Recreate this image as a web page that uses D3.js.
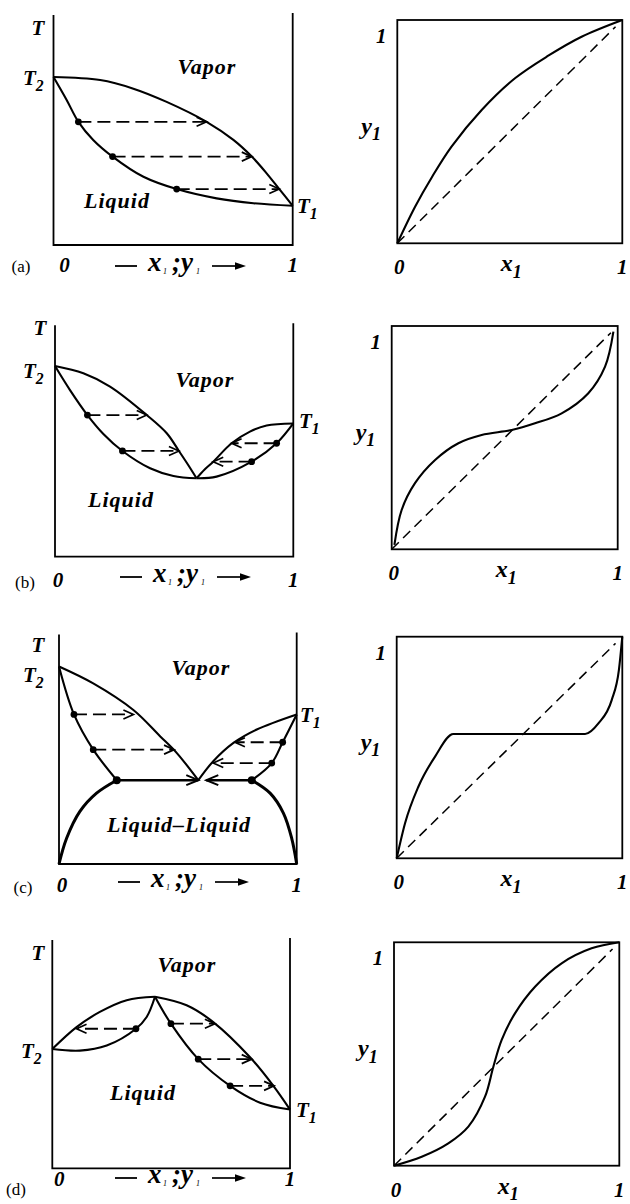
<!DOCTYPE html>
<html>
<head>
<meta charset="utf-8">
<script src="https://cdn.jsdelivr.net/npm/d3@7/dist/d3.min.js"></script>
<style>
  body { margin: 0; background: #fff; }
  svg { display: block; }
</style>
</head>
<body>
<svg id="chart" width="630" height="1204"></svg>
<script>
// ---------------------------------------------------------------------------
// Data: binary vapour–liquid equilibrium, normalised composition x1 / y1 (0..1)
// and normalised temperature T (0 = bottom of frame, 1 = top of frame).
// Curves are [x, T] pairs; tie lines are [liquid x, vapour y, T].
// ---------------------------------------------------------------------------

// (a) zeotropic system
const aDew    = [[0,0.724],[0.195,0.711],[0.334,0.674],[0.473,0.617],[0.640,0.531],[0.752,0.453],[0.829,0.381],[0.891,0.309],[0.944,0.241],[1,0.169]];
const aBubble = [[0,0.724],[0.055,0.625],[0.104,0.531],[0.166,0.453],[0.247,0.381],[0.376,0.294],[0.515,0.241],[0.682,0.201],[0.836,0.180],[1,0.169]];
const aTies   = [[0.104,0.640,0.531],[0.247,0.829,0.381],[0.515,0.944,0.241]];
const aXY     = [[0,0],[0.079,0.164],[0.153,0.295],[0.241,0.433],[0.375,0.597],[0.523,0.739],[0.671,0.840],[0.819,0.925],[1,1]];

// (b) minimum-boiling azeotrope
const bDewL    = [[0,0.817],[0.119,0.786],[0.231,0.729],[0.385,0.607],[0.469,0.529],[0.520,0.453],[0.559,0.393],[0.594,0.336]];
const bBubbleL = [[0,0.817],[0.063,0.714],[0.136,0.607],[0.203,0.526],[0.283,0.453],[0.399,0.379],[0.497,0.346],[0.594,0.336]];
const bDewR    = [[0.594,0.336],[0.629,0.375],[0.664,0.407],[0.741,0.486],[0.818,0.536],[0.888,0.562],[1,0.571]];
const bBubbleR = [[0.594,0.336],[0.678,0.343],[0.825,0.407],[0.930,0.486],[1,0.571]];
const bTies    = [[0.136,0.385,0.607],[0.283,0.520,0.453],[0.930,0.741,0.486],[0.825,0.664,0.407]];
const bXY      = [[0.012,0.02],[0.044,0.176],[0.103,0.296],[0.192,0.400],[0.295,0.475],[0.398,0.512],[0.531,0.534],[0.634,0.564],[0.752,0.609],[0.870,0.699],[0.944,0.818],[0.981,0.975]];

// (c) heterogeneous azeotrope with liquid–liquid split
const cDewL    = [[0,0.853],[0.144,0.780],[0.313,0.665],[0.425,0.552],[0.495,0.480],[0.586,0.362]];
const cBubbleL = [[0,0.853],[0.063,0.646],[0.144,0.494],[0.243,0.362]];
const cDewR    = [[0.586,0.362],[0.649,0.444],[0.734,0.523],[0.832,0.581],[1,0.646]];
const cBubbleR = [[0.811,0.362],[0.895,0.436],[0.941,0.526],[1,0.646]];
const cLLEL    = [[0,0],[0.032,0.111],[0.088,0.227],[0.158,0.306],[0.243,0.362]];
const cLLER    = [[0.811,0.362],[0.888,0.306],[0.944,0.220],[0.979,0.111],[1,0]];
const cTies    = [[0.063,0.313,0.646],[0.144,0.484,0.494],[0.941,0.740,0.526],[0.895,0.649,0.436]];
const cThree   = [0.243,0.586,0.811,0.362]; // left liquid, azeotrope vapour, right liquid, T
const cXY      = [[0,0],[0.037,0.158],[0.096,0.323],[0.170,0.459],[0.251,0.561],[0.835,0.561],[0.894,0.609],[0.953,0.714],[0.985,0.850],[1,1]];

// (d) maximum-boiling azeotrope
const dDewL    = [[0,0.518],[0.102,0.613],[0.200,0.679],[0.313,0.730],[0.432,0.745]];
const dBubbleL = [[0,0.518],[0.116,0.511],[0.229,0.533],[0.352,0.606],[0.397,0.657],[0.432,0.745]];
const dDewR    = [[0.432,0.745],[0.565,0.708],[0.677,0.635],[0.832,0.482],[0.930,0.358],[1,0.255]];
const dBubbleR = [[0.432,0.745],[0.499,0.628],[0.614,0.474],[0.748,0.358],[0.874,0.285],[1,0.255]];
const dTies    = [[0.352,0.102,0.606],[0.499,0.684,0.628],[0.614,0.839,0.474],[0.748,0.933,0.358]];
const dXY      = [[0,0],[0.123,0.040],[0.241,0.100],[0.330,0.175],[0.404,0.309],[0.441,0.443],[0.478,0.563],[0.537,0.682],[0.626,0.801],[0.744,0.906],[0.877,0.973],[1,1]];

// y = x reference line
const diagonal = [[0,0],[0.97,0.97]];

// text
const tickLabels  = ["0", "1"];
const panelTags   = ["(a)", "(b)", "(c)", "(d)"];
const phaseNames  = [["Vapor","Liquid"],["Vapor","Liquid"],["Vapor","Liquid\u2013Liquid"],["Vapor","Liquid"]];

// ---------------------------------------------------------------------------
// Layout
// ---------------------------------------------------------------------------
const INK = "#000";
const SERIF = "'Liberation Serif', 'Times New Roman', serif";

const txyLayout = [
  { box:{x0:53.5, x1:292.7, yb:245,   yt:13},   T:[38,35],  T2:[23,85],   T1:[297,213],  vapor:[207,74],  liquid:[117,208],  tag:[21,272],  tickY:272,  zeroDx:11, xl:[115,266] },
  { box:{x0:55,   x1:293.3, yb:556.7, yt:323.3},T:[40,335], T2:[23,378],  T1:[299,428],  vapor:[205,387], liquid:[121,507],  tag:[25,588],  tickY:587,  zeroDx:3,  xl:[120,577] },
  { box:{x0:59,   x1:296.7, yb:864,   yt:632.5},T:[38,652], T2:[23,682],  T1:[300,722],  vapor:[201,675], liquid:[179,832],  tag:[23,893],  tickY:892,  zeroDx:3,  xl:[118,882] },
  { box:{x0:52.3, x1:290,   yb:1168.3,yt:938},  T:[38,960], T2:[21,1058], T1:[296,1117], vapor:[187,972], liquid:[143,1100], tag:[16,1195], tickY:1186, zeroDx:7,  xl:[115,1178] }
];

const xyLayout = [
  { x0:397.3, x1:622.3, yt:20,    yb:243.3 },
  { x0:391.7, x1:617.7, yt:326,   yb:549.3 },
  { x0:396.7, x1:622.3, yt:636.7, yb:858.3 },
  { x0:394,   x1:619.3, yt:942.3, yb:1165.7 }
];

const txySeries = [
  { curves:[aDew, aBubble],                    ties:aTies, lle:[],           three:null },
  { curves:[bDewL, bBubbleL, bDewR, bBubbleR], ties:bTies, lle:[],           three:null },
  { curves:[cDewL, cBubbleL, cDewR, cBubbleR], ties:cTies, lle:[cLLEL,cLLER], three:cThree },
  { curves:[dDewL, dBubbleL, dDewR, dBubbleR], ties:dTies, lle:[],           three:null }
];
const xySeries = [aXY, bXY, cXY, dXY];

const svg = d3.select("#chart");

function bi(sel, size) {
  return sel.attr("font-family", SERIF).attr("font-weight", "bold")
            .attr("font-style", "italic").attr("font-size", size).attr("fill", INK);
}

// bold-italic symbol with a small subscript, e.g. T2, y1
function subLabel(g, x, y, main, sub, size, anchor) {
  const t = bi(g.append("text"), size).attr("x", x).attr("y", y)
              .attr("text-anchor", anchor || "start");
  t.append("tspan").text(main);
  t.append("tspan").attr("font-size", size * 0.75).attr("dy", size * 0.28).text(sub);
  return t;
}

function hLine(g, xa, xb, y, w, dash) {
  return g.append("line").attr("x1", xa).attr("x2", xb).attr("y1", y).attr("y2", y)
    .attr("stroke", INK).attr("stroke-width", w).attr("stroke-dasharray", dash || null);
}

function chevron(g, xt, y, dir, w, len, half) {
  g.append("path")
    .attr("d", `M${xt - dir * len},${y - half}L${xt},${y}L${xt - dir * len},${y + half}`)
    .attr("fill", "none").attr("stroke", INK).attr("stroke-width", w)
    .attr("stroke-linejoin", "miter");
}

// composition axis caption:  — x1 ;y1 ⟶
function compositionCaption(g, xs, yc) {
  hLine(g, xs, xs + 22, yc, 1.8);
  const t = g.append("text").attr("font-family", SERIF).attr("font-style", "italic")
             .attr("font-weight", "bold").attr("font-size", 27).attr("fill", INK).attr("y", yc + 5);
  t.append("tspan").attr("x", xs + 33).text("x");
  t.append("tspan").attr("x", xs + 48).attr("font-size", 8).attr("font-weight", "normal").attr("dy", 3).text("1");
  t.append("tspan").attr("x", xs + 57).attr("dy", -3).text(";");
  t.append("tspan").attr("x", xs + 66).text("y");
  t.append("tspan").attr("x", xs + 81).attr("font-size", 8).attr("font-weight", "normal").attr("dy", 3).text("1");
  hLine(g, xs + 97, xs + 123, yc, 1.7);
  g.append("path").attr("d", `M${xs + 131},${yc}L${xs + 120},${yc - 3.8}L${xs + 120},${yc + 3.8}Z`).attr("fill", INK);
}

const smooth = d3.curveCatmullRom.alpha(0.5);

// ---------------------------------------------------------------------------
// T–x–y diagrams (left column)
// ---------------------------------------------------------------------------
txyLayout.forEach((L, i) => {
  const S = txySeries[i];
  const g = svg.append("g");
  const x = d3.scaleLinear().domain([0, 1]).range([L.box.x0, L.box.x1]);
  const y = d3.scaleLinear().domain([0, 1]).range([L.box.yb, L.box.yt]);
  const line = d3.line().x(d => x(d[0])).y(d => y(d[1])).curve(smooth);

  // frame: two temperature axes and the composition axis
  g.append("path")
    .attr("d", `M${x(0)},${y(1) + 2}V${y(0)}H${x(1)}V${y(1)}`)
    .attr("fill", "none").attr("stroke", INK).attr("stroke-width", 1.8);

  S.curves.forEach(c => g.append("path").attr("d", line(c))
    .attr("fill", "none").attr("stroke", INK).attr("stroke-width", 2.1));
  S.lle.forEach(c => g.append("path").attr("d", line(c))
    .attr("fill", "none").attr("stroke", INK).attr("stroke-width", 3));

  // tie lines: liquid point -> vapour in equilibrium
  S.ties.forEach(([xl, xv, T]) => {
    const xa = x(xl), xb = x(xv), yy = y(T), dir = Math.sign(xb - xa);
    hLine(g, xa, xb - dir, yy, 1.8, "13 6");
    chevron(g, xb, yy, dir, 1.7, 10, 4.5);
    g.append("circle").attr("cx", xa).attr("cy", yy).attr("r", 3.4).attr("fill", INK);
  });

  // three-phase line
  if (S.three) {
    const [l1, az, l2, T] = S.three;
    const yy = y(T);
    hLine(g, x(l1), x(az), yy, 2.4);
    hLine(g, x(l2), x(az) + 8, yy, 2.4);
    chevron(g, x(az), yy, 1, 2, 12, 5);
    chevron(g, x(az) + 8, yy, -1, 2, 12, 5);
    [l1, l2].forEach(v => g.append("circle").attr("cx", x(v)).attr("cy", yy).attr("r", 4).attr("fill", INK));
  }

  // labels
  bi(g.append("text"), 21).attr("x", L.T[0]).attr("y", L.T[1]).attr("text-anchor", "middle").text("T");
  subLabel(g, L.T2[0], L.T2[1], "T", "2", 21);
  subLabel(g, L.T1[0], L.T1[1], "T", "1", 21);
  bi(g.append("text"), 22).attr("x", L.vapor[0]).attr("y", L.vapor[1]).attr("letter-spacing", 1)
    .attr("text-anchor", "middle").text(phaseNames[i][0]);
  bi(g.append("text"), 22).attr("x", L.liquid[0]).attr("y", L.liquid[1]).attr("letter-spacing", 1)
    .attr("text-anchor", "middle").text(phaseNames[i][1]);
  g.append("text").attr("font-family", SERIF).attr("font-size", 17).attr("fill", INK)
    .attr("x", L.tag[0]).attr("y", L.tag[1]).attr("text-anchor", "middle").text(panelTags[i]);
  tickLabels.forEach((t, k) => bi(g.append("text"), 21)
    .attr("x", x(k) + (k === 0 ? L.zeroDx : 0)).attr("y", L.tickY).attr("text-anchor", "middle").text(t));
  compositionCaption(g, L.xl[0], L.xl[1]);
});

// ---------------------------------------------------------------------------
// y–x diagrams (right column)
// ---------------------------------------------------------------------------
xyLayout.forEach((B, i) => {
  const g = svg.append("g");
  const x = d3.scaleLinear().domain([0, 1]).range([B.x0, B.x1]);
  const y = d3.scaleLinear().domain([0, 1]).range([B.yb, B.yt]);
  const line = d3.line().x(d => x(d[0])).y(d => y(d[1]));

  g.append("rect").attr("x", x(0)).attr("y", y(1))
    .attr("width", x(1) - x(0)).attr("height", y(0) - y(1))
    .attr("fill", "none").attr("stroke", INK).attr("stroke-width", 1.8);

  g.append("path").attr("d", line(diagonal)).attr("fill", "none")
    .attr("stroke", INK).attr("stroke-width", 1.5).attr("stroke-dasharray", "10 6");

  // the plateau of the heterogeneous case must stay flat, so use a monotone curve there
  const curve = xySeries[i] === cXY ? d3.curveMonotoneX : smooth;
  g.append("path").attr("d", line.curve(curve)(xySeries[i]))
    .attr("fill", "none").attr("stroke", INK).attr("stroke-width", 2.1);

  // tick values and axis symbols
  bi(g.append("text"), 21).attr("x", x(0) - 16).attr("y", y(1) + 23).attr("text-anchor", "middle").text(tickLabels[1]);
  bi(g.append("text"), 21).attr("x", x(0) + 2).attr("y", y(0) + 31).attr("text-anchor", "middle").text(tickLabels[0]);
  bi(g.append("text"), 21).attr("x", x(1)).attr("y", y(0) + 31).attr("text-anchor", "middle").text(tickLabels[1]);
  subLabel(g, x(0) - 36, (y(0) + y(1)) / 2 + 2, "y", "1", 24);
  subLabel(g, x(0.46), y(0) + 28, "x", "1", 24);
});
</script>
</body>
</html>
